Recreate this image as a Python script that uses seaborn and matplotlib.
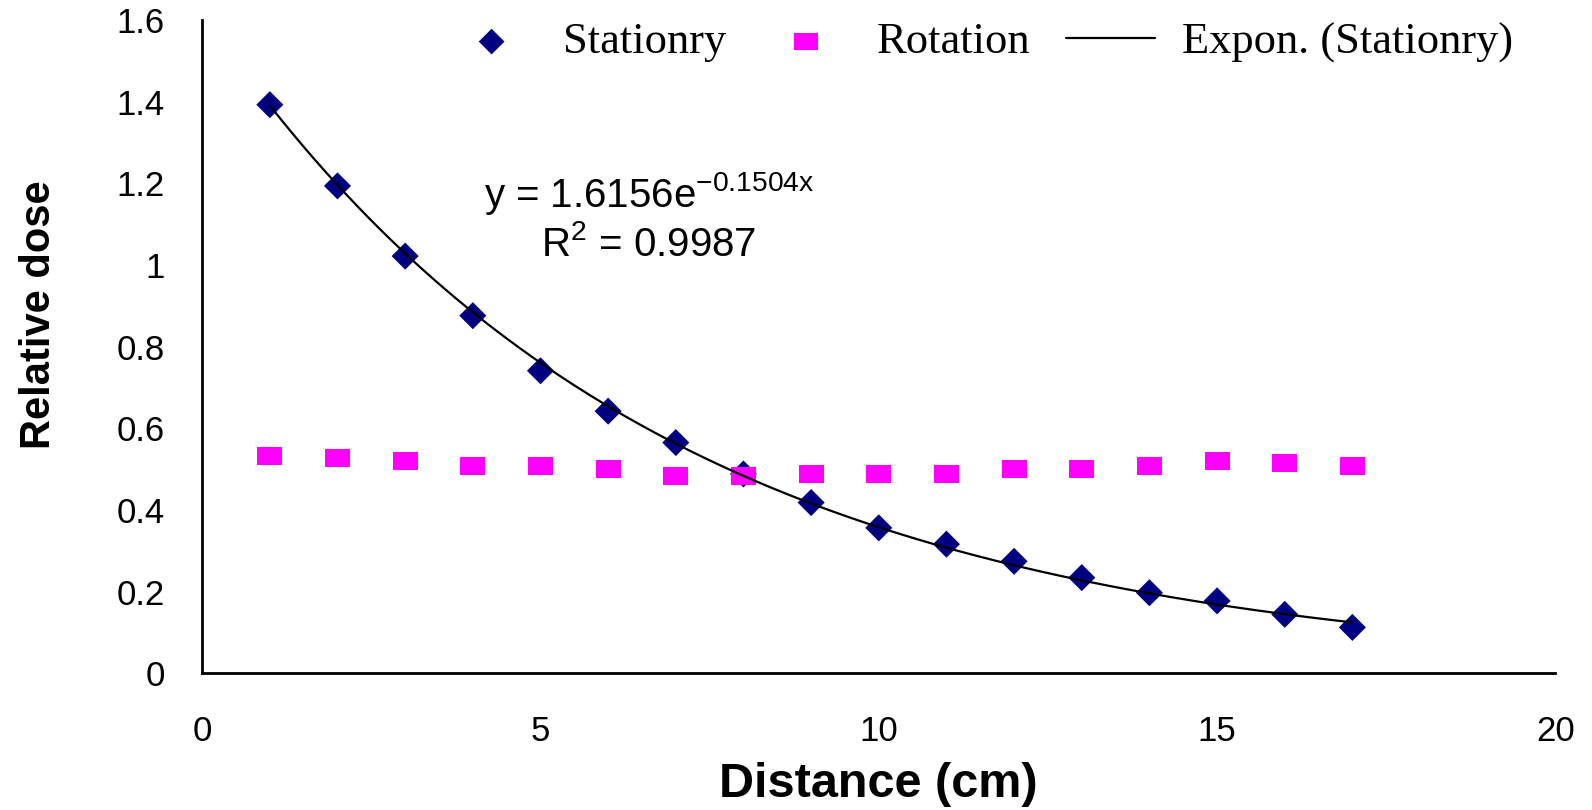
import numpy as np
import pandas as pd
import seaborn as sns
import matplotlib.pyplot as plt
from matplotlib.path import Path

# distance (cm) and relative dose
distance = [1, 2, 3, 4, 5, 6, 7, 8, 9, 10, 11, 12, 13, 14, 15, 16, 17]
stationry = [1.393, 1.194, 1.022, 0.876, 0.741, 0.642, 0.565, 0.488, 0.418,
             0.356, 0.316, 0.274, 0.234, 0.197, 0.177, 0.144, 0.112]
rotation = [0.532, 0.527, 0.520, 0.507, 0.507, 0.500, 0.483, 0.483, 0.488,
            0.488, 0.488, 0.500, 0.500, 0.507, 0.520, 0.515, 0.507]

eq_text = r"y = 1.6156e$^{-0.1504x}$"
r2_text = r"R$^{2}$ = 0.9987"

sns.set_style("white")
plt.rcParams['font.family'] = ['Liberation Sans', 'DejaVu Sans']
plt.rcParams['mathtext.fontset'] = 'custom'
plt.rcParams['mathtext.rm'] = 'Liberation Sans'
plt.rcParams['mathtext.it'] = 'Liberation Sans'
plt.rcParams['mathtext.default'] = 'regular'
for k in ['text.color', 'axes.labelcolor', 'xtick.color', 'ytick.color']:
    plt.rcParams[k] = 'black'

df = pd.DataFrame({'distance': distance, 'stationry': stationry, 'rotation': rotation})

# exponential trendline fitted to the stationary series
b, log_a = np.polyfit(df.distance, np.log(df.stationry), 1)
xfit = np.linspace(min(distance), max(distance), 200)
fit = pd.DataFrame({'distance': xfit, 'dose': np.exp(log_a) * np.exp(b * xfit)})

rect = Path([(-1, -0.72), (1, -0.72), (1, 0.72), (-1, 0.72), (-1, -0.72)],
            [Path.MOVETO, Path.LINETO, Path.LINETO, Path.LINETO, Path.CLOSEPOLY])

fig = plt.figure(figsize=(15.92, 8.10), dpi=100)
ax = fig.add_axes([0.127, 0.169, 0.850, 0.806])

sns.lineplot(data=fit, x='distance', y='dose', color='black', lw=1.6, ax=ax,
             label='Expon. (Stationry)', zorder=3)
sns.scatterplot(data=df, x='distance', y='stationry', marker='D', s=190,
                color='#000080', edgecolor='none', ax=ax, label='Stationry', zorder=2)
sns.scatterplot(data=df, x='distance', y='rotation', marker=rect, s=320,
                color='#FF00FF', edgecolor='none', ax=ax, label='Rotation', zorder=2)

ax.set_xlim(0, 20)
ax.set_ylim(0, 1.6)
ax.set_xticks([0, 5, 10, 15, 20])
ax.set_yticks([0, 0.2, 0.4, 0.6, 0.8, 1.0, 1.2, 1.4, 1.6])
ax.set_yticklabels(['0', '0.2', '0.4', '0.6', '0.8', '1', '1.2', '1.4', '1.6'])
ax.tick_params(axis='both', length=0, labelsize=25)
ax.tick_params(axis='y', pad=27)
ax.tick_params(axis='x', pad=30)

sns.despine(ax=ax)
for s in ['left', 'bottom']:
    ax.spines[s].set_linewidth(2)
    ax.spines[s].set_color('black')

ax.set_xlabel('Distance (cm)', fontsize=35, fontweight='bold', labelpad=10)
ax.set_ylabel('Relative dose', fontsize=30, fontweight='bold')
ax.yaxis.set_label_coords(-0.106, 0.549)

ax.text(6.6, 1.176, eq_text, fontsize=29, ha='center', va='center')
ax.text(6.6, 1.051, r2_text, fontsize=29, ha='center', va='center')

handles, labels = ax.get_legend_handles_labels()
order = [labels.index('Stationry'), labels.index('Rotation'), labels.index('Expon. (Stationry)')]
ax.legend([handles[i] for i in order], [labels[i] for i in order],
          loc='center right', bbox_to_anchor=(0.998, 0.966), ncol=3, frameon=False,
          prop={'family': 'Liberation Serif', 'size': 32},
          handlelength=2.0, handletextpad=0.6, columnspacing=0.8,
          markerscale=0.95)

fig.savefig('out.png', dpi=100)
